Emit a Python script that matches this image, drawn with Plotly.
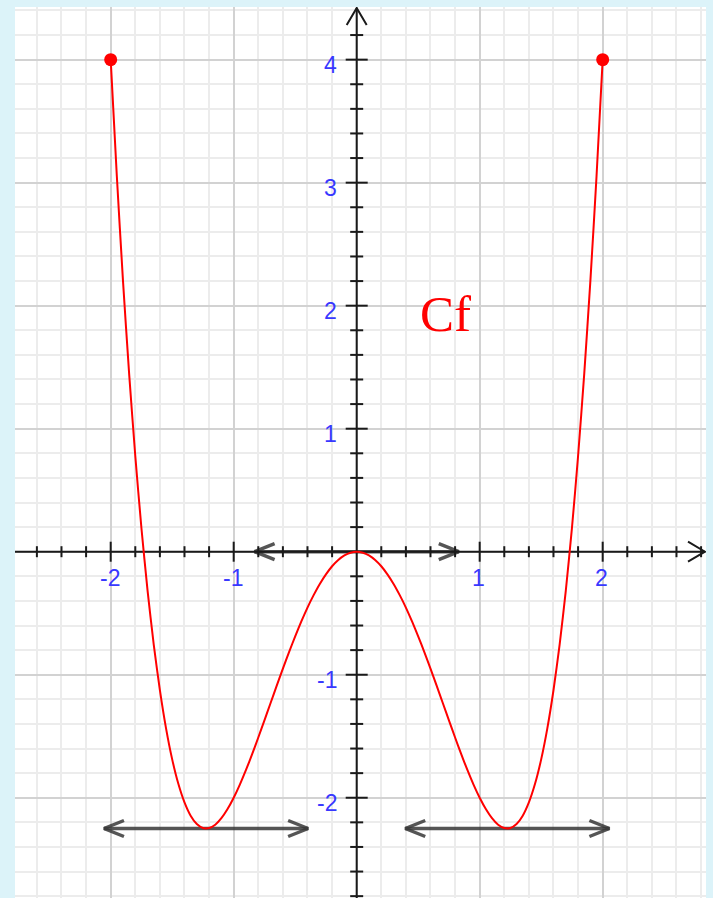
import plotly.graph_objects as go

# Sampled points of the curve Cf (step 0.05 from -2 to 2)
curve_x = [round(-2 + 0.05 * i, 2) for i in range(81)]
curve_y = [4.0, 3.052, 2.202, 1.446, 0.778, 0.191, -0.318, -0.756, -1.126, -1.436,
           -1.688, -1.887, -2.038, -2.146, -2.214, -2.246, -2.246, -2.219, -2.166, -2.092,
           -2.0, -1.893, -1.774, -1.646, -1.510, -1.371, -1.230, -1.089, -0.950, -0.816,
           -0.688, -0.567, -0.454, -0.353, -0.262, -0.184, -0.118, -0.067, -0.030, -0.008,
           0.0,
           -0.008, -0.030, -0.067, -0.118, -0.184, -0.262, -0.353, -0.454, -0.567, -0.688,
           -0.816, -0.950, -1.089, -1.230, -1.371, -1.510, -1.646, -1.774, -1.893, -2.0,
           -2.092, -2.166, -2.219, -2.246, -2.246, -2.214, -2.146, -2.038, -1.887, -1.688,
           -1.436, -1.126, -0.756, -0.318, 0.191, 0.778, 1.446, 2.202, 3.052, 4.0]

# Endpoints of the curve
end_x = [-2, 2]
end_y = [4, 4]

# Horizontal tangents at the extrema
tangent_x = [-1.2247, 0.0, 1.2247]
tangent_y = [-2.25, 0.0, -2.25]
tangent_half = 0.83

# Tick labels
x_labels = [-2, -1, 1, 2]
y_labels = [-2, -1, 1, 2, 3, 4]

X_RANGE = [-2.778, 2.840]
Y_RANGE = [-2.815, 4.428]
PX = 123.0  # pixels per unit on both axes

fig = go.Figure()

# Horizontal tangent segments with open arrowheads
for cx, cy in zip(tangent_x, tangent_y):
    x0, x1 = cx - tangent_half, cx + tangent_half
    ax, ay = 20 / PX, 8 / PX
    xs = [x0, x1, None,
          x0 + ax, x0, x0 + ax, None,
          x1 - ax, x1, x1 - ax]
    ys = [cy, cy, None,
          cy + ay, cy, cy - ay, None,
          cy + ay, cy, cy - ay]
    fig.add_trace(go.Scatter(x=xs, y=ys, mode="lines",
                             line=dict(color="rgba(55,55,55,0.85)", width=3.5),
                             hoverinfo="skip", showlegend=False))

# Axes with arrowheads
x_tip = X_RANGE[1] - 1 / PX
y_tip = Y_RANGE[1] - 1 / PX
hl, hw = 17 / PX, 10 / PX
axis_x = [X_RANGE[0], x_tip, None, x_tip - hl, x_tip, x_tip - hl, None,
          0, 0, None, -hw, 0, hw]
axis_y = [0, 0, None, hw, 0, -hw, None,
          Y_RANGE[0], y_tip, None, y_tip - hl, y_tip, y_tip - hl]
fig.add_trace(go.Scatter(x=axis_x, y=axis_y, mode="lines",
                         line=dict(color="#1a1a1a", width=2),
                         hoverinfo="skip", showlegend=False))

# Tick marks every 0.2, longer at whole units
tx, ty = [], []
k = -13
while k * 0.2 < X_RANGE[1]:
    v = round(k * 0.2, 1)
    if k != 0:
        h = (10 if k % 5 == 0 else 5.5) / PX
        tx += [v, v, None]
        ty += [-h, h, None]
    k += 1
k = -14
while k * 0.2 < Y_RANGE[1] - 0.15:
    v = round(k * 0.2, 1)
    if k != 0:
        h = (11 if k % 5 == 0 else 6.5) / PX
        tx += [-h, h, None]
        ty += [v, v, None]
    k += 1
fig.add_trace(go.Scatter(x=tx, y=ty, mode="lines",
                         line=dict(color="#1a1a1a", width=2),
                         hoverinfo="skip", showlegend=False))

# The curve
fig.add_trace(go.Scatter(x=curve_x, y=curve_y, mode="lines",
                         line=dict(color="#ff0000", width=2, shape="spline", smoothing=0.6),
                         hoverinfo="skip", showlegend=False))
fig.add_trace(go.Scatter(x=end_x, y=end_y, mode="markers",
                         marker=dict(color="#ff0000", size=13),
                         hoverinfo="skip", showlegend=False))

label_font = dict(family="Liberation Sans, Arial, sans-serif", size=23, color="#3838ff")
for v in x_labels:
    fig.add_annotation(x=v, y=0, text=str(v), showarrow=False, font=label_font,
                       xanchor="center", yanchor="middle", yshift=-26, xshift=-1)
for v in y_labels:
    fig.add_annotation(x=0, y=v, text=str(v), showarrow=False, font=label_font,
                       xanchor="right", yanchor="middle", xshift=-18, yshift=-5)

fig.add_annotation(x=0.72, y=1.93, text="Cf", showarrow=False,
                   font=dict(family="Liberation Serif, Times New Roman, serif", size=51, color="#ff0000"),
                   xanchor="center", yanchor="middle")

axis_common = dict(showticklabels=False, ticks="", zeroline=False, showline=False,
                   showgrid=True, gridcolor="#d2d2d2", gridwidth=1.5,
                   tick0=0, dtick=1, fixedrange=True,
                   minor=dict(tick0=0, dtick=0.2, showgrid=True,
                              gridcolor="#ececec", gridwidth=1.5))
fig.update_xaxes(range=X_RANGE, **axis_common)
fig.update_yaxes(range=Y_RANGE, **axis_common)

fig.update_layout(width=713, height=898,
                  margin=dict(l=15, r=7, t=7, b=0),
                  paper_bgcolor="#dcf3f9", plot_bgcolor="#ffffff",
                  showlegend=False)

fig.write_html("out.html")
